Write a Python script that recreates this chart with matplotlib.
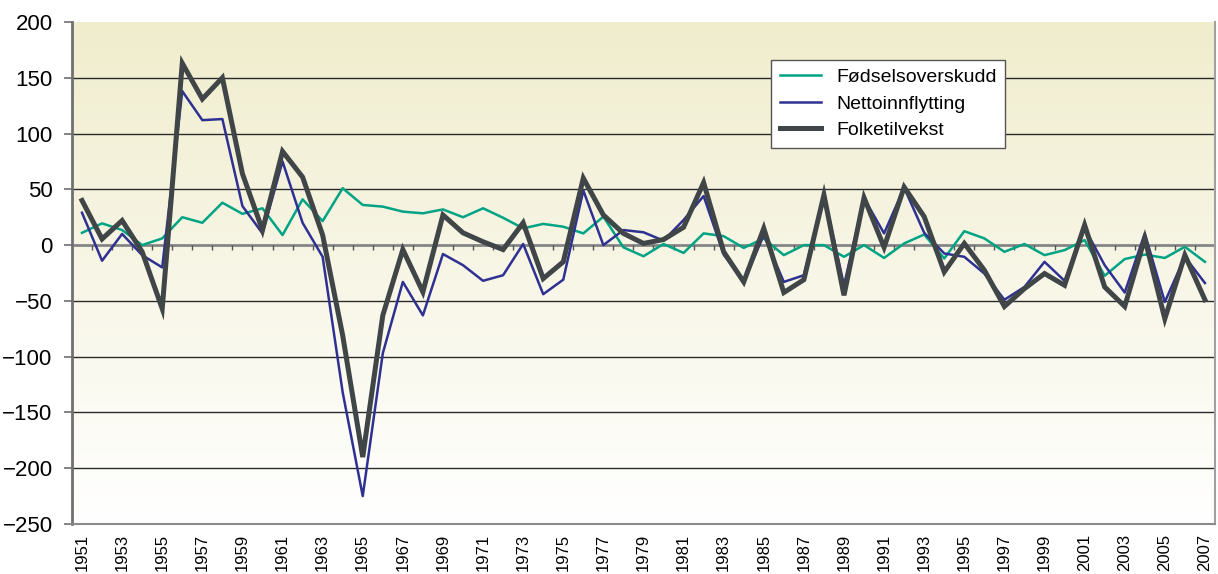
import numpy as np
import matplotlib
matplotlib.use('Agg')
from matplotlib import pyplot as plt

plt.rcParams['font.family'] = ['Liberation Sans', 'DejaVu Sans']

years = list(range(1951, 2008))

fodselsoverskudd = [11, 19.5, 13.5, 0, 6, 25, 20, 38, 28, 33,
                    9, 41, 21.5, 51, 36, 34.5, 30, 28.5, 32, 25,
                    33, 24.5, 15, 19, 16.5, 10.5, 25.5, -2, -10, 1,
                    -7, 10.5, 8, -2.5, 6, -9, 0, 0, -10.5, 0,
                    -11.5, 1.5, 9.5, -12, 12.5, 6, -6, 1, -9, -4.5,
                    4.5, -27.5, -12.5, -8.5, -11.5, -1.5, -15]

nettoinnflytting = [29, -14, 10, -9, -20, 138, 112, 113, 35, 10.5,
                    75, 20, -10.5, -132, -225, -97, -33, -63, -8, -18,
                    -32, -27, 1, -44, -31, 49, 0, 13.5, 11.5, 4,
                    22.5, 44, -8.5, -33, 9, -33, -27, 46, -36, 42,
                    10.5, 51.5, 11, -7.5, -10.5, -25.5, -49, -37.5, -15, -32,
                    15, -18, -42.5, 10.5, -51, -10.5, -34]

folketilvekst = [40, 5.5, 22, -6, -57, 163, 131, 150, 64, 13.5,
                 84, 61, 9, -81, -190, -63, -4, -42, 27, 11,
                 3, -4, 20, -30, -15, 60, 27, 10.5, 1.5, 5,
                 16, 56, -6, -33, 15, -42.5, -31, 45, -45, 42.5,
                 -2, 52, 25.5, -24, 1.5, -22.5, -55, -39, -25.5, -36,
                 18, -37.5, -55, 6, -66, -9, -49]

labels = ['Fødselsoverskudd', 'Nettoinnflytting', 'Folketilvekst']

fig = plt.figure(figsize=(12.18, 5.74), dpi=100)
ax = fig.add_axes([0.0591, 0.0871, 0.9384, 0.8746])

x_lo, x_hi = years[0] - 0.5, years[-1] + 0.5
y_lo, y_hi = -250, 200
ax.set_xlim(x_lo, x_hi)
ax.set_ylim(y_lo, y_hi)

# pale yellow to white background
grad = np.linspace(0, 1, 256).reshape(-1, 1)
top = np.array([240, 237, 205]) / 255.0
bot = np.array([255, 255, 255]) / 255.0
img = top[None, None, :] * (1 - grad[:, :, None]) + bot[None, None, :] * grad[:, :, None]
ax.imshow(img, extent=[x_lo, x_hi, y_lo, y_hi], aspect='auto', zorder=0, origin='upper')

# horizontal grid lines
for v in range(-200, 200, 50):
    if v == 0:
        continue
    ax.axhline(v, color='#2a2a2a', lw=1.0, zorder=1)

# zero line with small ticks between categories
ax.axhline(0, color='#858585', lw=2.0, zorder=1)
ax.vlines(np.array(years[:-1]) + 0.5, -4.5, 0, color='#555555', lw=1.0, zorder=1)

ax.plot(years, fodselsoverskudd, color='#00a383', lw=1.8, label=labels[0], zorder=3)
ax.plot(years, nettoinnflytting, color='#2e3192', lw=1.8, label=labels[1], zorder=3)
ax.plot(years, folketilvekst, color='#404548', lw=3.6, label=labels[2], zorder=4,
        solid_joinstyle='miter')

ax.set_yticks(range(-250, 201, 50))
ax.set_xticks(years[::2])
ax.set_xticklabels([str(y) for y in years[::2]], rotation=90)
ax.tick_params(axis='y', labelsize=16, length=6, width=1.2, color='#707070', pad=8)
ax.tick_params(axis='x', labelsize=12, length=0, pad=7)

ax.spines['top'].set_visible(False)
ax.spines['left'].set_color('#707070')
ax.spines['left'].set_linewidth(2.0)
ax.spines['bottom'].set_color('#8a8a8a')
ax.spines['bottom'].set_linewidth(1.5)
ax.spines['right'].set_color('#a0a0a0')
ax.spines['right'].set_linewidth(1.5)

leg = ax.legend(loc='upper left', bbox_to_anchor=(0.603, 0.944), fontsize=14,
                frameon=True, fancybox=False, framealpha=1, edgecolor='#555555',
                handlelength=2.1, labelspacing=0.45, borderpad=0.45)
leg.get_frame().set_linewidth(1.0)

fig.savefig('out.png', dpi=100)
